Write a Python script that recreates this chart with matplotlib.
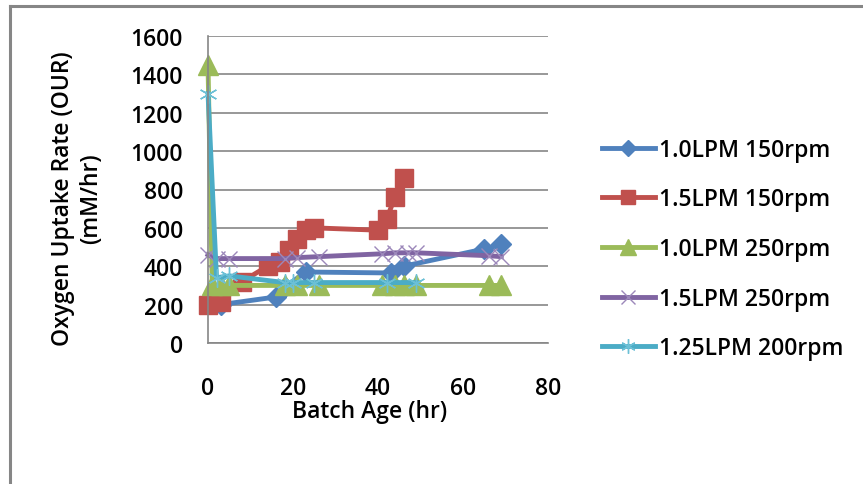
import numpy as np
import matplotlib
matplotlib.use("Agg")
import matplotlib.pyplot as plt
from matplotlib.lines import Line2D

# OUR vs batch age for each aeration / agitation condition
labels = ["1.0LPM 150rpm", "1.5LPM 150rpm", "1.0LPM 250rpm", "1.5LPM 250rpm", "1.25LPM 200rpm"]

t_10_150 = [3, 16, 18, 23, 43, 46, 65, 69]
our_10_150 = [200, 240, 290, 370, 365, 400, 490, 515]

t_15_150 = [0, 3, 8, 14, 17, 19, 21, 23, 25, 40, 42, 44, 46]
our_15_150 = [200, 215, 320, 400, 420, 485, 540, 590, 600, 588, 645, 760, 860]

t_10_250 = [0, 1, 3, 5, 18, 21, 26, 41, 44, 46, 49, 66, 69]
our_10_250 = [1450, 300, 300, 300, 300, 300, 300, 300, 300, 300, 300, 300, 300]

t_15_250 = [0, 2, 5, 18, 21, 26, 41, 44, 47, 49, 66, 69]
our_15_250 = [460, 440, 440, 440, 445, 450, 465, 470, 470, 470, 455, 450]

t_125_200 = [0, 2, 5, 18, 20, 25, 42, 49]
our_125_200 = [1300, 340, 350, 315, 315, 315, 315, 315]

plt.rcParams["font.family"] = ["Open Sans", "DejaVu Sans"]
plt.rcParams["font.weight"] = "semibold"

W, H = 863, 485
fig = plt.figure(figsize=(W / 100, H / 100), dpi=100)
fig.patch.set_facecolor("white")
ax = fig.add_axes([208 / W, 1 - 344 / H, 340 / W, 307 / H])

fs = 16.5
series = [
    (t_10_150, our_10_150, "#4F81BD", dict(marker="D", ms=10, mec="#4F81BD")),
    (t_15_150, our_15_150, "#C0504D", dict(marker="s", ms=13, mec="#C0504D")),
    (t_10_250, our_10_250, "#9BBB59", dict(marker="^", ms=14, mec="#9BBB59")),
    (t_15_250, our_15_250, "#8064A2", dict(marker="x", ms=12, mew=1.0, mec="#9C88BA")),
    (t_125_200, our_125_200, "#4BACC6", dict(marker=(6, 2, 0), ms=13, mew=1.0, mec="#6CC0D6")),
]
for (x, y, c, mk), lab in zip(series, labels):
    ax.plot(x, y, color=c, lw=3.5, label=lab, clip_on=False, **mk)

ax.set_xlim(0, 80)
ax.set_ylim(0, 1600)
ax.set_xticks(np.arange(0, 81, 20))
ax.set_yticks(np.arange(0, 1601, 200))
ax.yaxis.grid(True, color="#868686", lw=1.2)
ax.set_axisbelow(True)
for s in ["top", "right"]:
    ax.spines[s].set_visible(False)
for s in ["left", "bottom"]:
    ax.spines[s].set_color("#868686")
    ax.spines[s].set_linewidth(1.2)
ax.tick_params(axis="both", length=0, labelsize=fs)
ax.tick_params(axis="y", pad=18)
ax.tick_params(axis="x", pad=24)

fig.text(370 / W, 1 - 412 / H, "Batch Age (hr)", ha="center", va="center", fontsize=fs)
fig.text(77 / W, 1 - 199 / H, "Oxygen Uptake Rate (OUR)\n(mM/hr)", ha="center", va="center",
         rotation=90, fontsize=fs, multialignment="center", linespacing=1.2)

leg = ax.legend(loc="center left", bbox_to_anchor=(602 / W, 1 - 250 / H),
                bbox_transform=fig.transFigure, frameon=False, fontsize=fs,
                handlelength=2.3, handletextpad=0.2, labelspacing=1.12,
                borderpad=0, borderaxespad=0, markerscale=0.8)

# outer chart frame (top and left edges)
fig.add_artist(Line2D([10 / W, 1], [1 - 7 / H, 1 - 7 / H], transform=fig.transFigure,
                      color="#868686", lw=2.2))
fig.add_artist(Line2D([10 / W, 10 / W], [0, 1 - 7 / H], transform=fig.transFigure,
                      color="#868686", lw=2.2))

fig.savefig("out.png", dpi=100)
